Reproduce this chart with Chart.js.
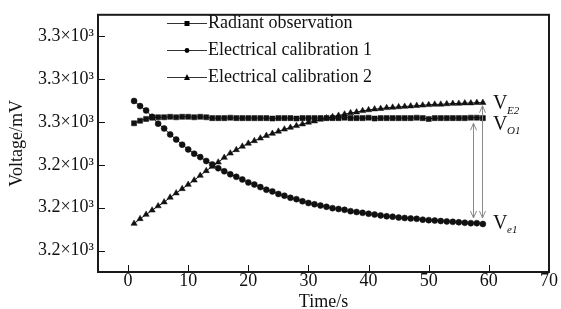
<!DOCTYPE html>
<html>
<head>
<meta charset="utf-8">
<script src="https://cdn.jsdelivr.net/npm/chart.js@4/dist/chart.umd.min.js"></script>
<style>
html,body{margin:0;padding:0;background:#fff}
</style>
</head>
<body>
<canvas id="voltChart" width="561" height="309"></canvas>
<script>

// time axis (s)
const times = [1,2,3,4,5,6,7,8,9,10,11,12,13,14,15,16,17,18,19,20,21,22,23,24,25,26,27,28,29,30,31,32,33,34,35,36,37,38,39,40,41,42,43,44,45,46,47,48,49,50,51,52,53,54,55,56,57,58,59]

// voltages (mV)
const radiant = [3249.7,3250.3,3250.7,3251.0,3251.1,3251.1,3251.2,3251.1,3251.2,3251.2,3251.1,3251.2,3251.1,3250.9,3250.9,3250.9,3251.0,3250.9,3250.9,3250.9,3250.9,3250.9,3250.9,3250.8,3250.9,3250.9,3250.9,3250.8,3250.9,3250.9,3250.9,3250.9,3250.9,3250.9,3250.9,3251.0,3250.9,3250.9,3250.9,3251.0,3250.8,3250.9,3250.9,3250.9,3250.9,3250.9,3250.9,3251.0,3250.9,3250.7,3250.9,3250.9,3250.9,3250.9,3250.9,3250.9,3251.0,3251.0,3250.9]

const elec1 = [3254.9,3253.7,3252.7,3251.2,3249.6,3248.5,3247.1,3245.9,3244.7,3243.6,3242.6,3241.8,3240.9,3240.1,3239.2,3238.5,3237.8,3237.2,3236.6,3235.9,3235.4,3234.8,3234.2,3233.8,3233.2,3232.8,3232.3,3232.0,3231.5,3231.1,3230.8,3230.5,3230.2,3229.9,3229.7,3229.5,3229.2,3229.0,3228.8,3228.6,3228.4,3228.2,3228.0,3227.9,3227.7,3227.6,3227.5,3227.4,3227.2,3227.1,3227.0,3226.9,3226.8,3226.7,3226.6,3226.5,3226.4,3226.4,3226.2]

const elec2 = [3226.3,3227.4,3228.4,3229.4,3230.4,3231.3,3232.4,3233.4,3234.4,3235.4,3236.4,3237.5,3238.6,3239.6,3240.6,3241.7,3242.7,3243.5,3244.3,3245.0,3245.6,3246.2,3246.8,3247.3,3247.8,3248.3,3248.7,3249.1,3249.5,3249.9,3250.2,3250.6,3250.9,3251.2,3251.5,3251.8,3252.1,3252.3,3252.6,3252.8,3253.0,3253.1,3253.3,3253.4,3253.5,3253.6,3253.7,3253.8,3253.9,3254.0,3254.1,3254.1,3254.2,3254.3,3254.3,3254.4,3254.4,3254.5,3254.5]

const seriesNames = ["Radiant observation","Electrical calibration 1","Electrical calibration 2"]

const xTicks = [0,10,20,30,40,50,60,70]
const yTicks = [3220,3230,3240,3250,3260,3270]
const yTickLabels = ["3.2×10³","3.2×10³","3.2×10³","3.3×10³","3.3×10³","3.3×10³"]

const serif = "'Liberation Serif','Times New Roman',serif"


// small line+marker pictures for the legend
function legendIcon(kind){
  const c = document.createElement("canvas")
  c.width = 40
  c.height = 10
  const g = c.getContext("2d")
  g.strokeStyle = "#333"
  g.lineWidth = 1
  g.beginPath()
  g.moveTo(0,5.5)
  g.lineTo(40,5.5)
  g.stroke()
  g.fillStyle = "#000"
  g.beginPath()
  if(kind=="rect"){
    g.rect(17.5,3,5,5)
  }else if(kind=="circle"){
    g.arc(20,5.5,2.4,0,Math.PI*2)
  }else{
    g.moveTo(20,2)
    g.lineTo(23,8)
    g.lineTo(17,8)
    g.closePath()
  }
  g.fill()
  return c
}
const icons = [legendIcon("rect"),legendIcon("circle"),legendIcon("triangle")]


// inward ticks, full frame, arrows and V labels
const framePlugin = {
  id:"frame",
  afterLayout(chart){
    const lg = chart.legend
    if(!lg) return
    lg.left += 68
    lg.right += 68
    lg.top += 5
    lg.bottom += 5
  },
  afterDatasetsDraw(chart){
    const ctx = chart.ctx
    const a = chart.chartArea
    const sx = chart.scales.x
    const sy = chart.scales.y
    ctx.save()
    ctx.strokeStyle = "#111"
    ctx.lineWidth = 1
    xTicks.forEach(v=>{
      const px = Math.round(sx.getPixelForValue(v))+0.5
      ctx.beginPath()
      ctx.moveTo(px,a.bottom)
      ctx.lineTo(px,a.bottom-7)
      ctx.stroke()
    })
    yTicks.forEach(v=>{
      const py = Math.round(sy.getPixelForValue(v))+0.5
      ctx.beginPath()
      ctx.moveTo(a.left,py)
      ctx.lineTo(a.left+7,py)
      ctx.stroke()
    })
    ctx.lineWidth = 2
    ctx.strokeStyle = "#1a1a1a"
    ctx.strokeRect(a.left,a.top,a.right-a.left,a.bottom-a.top)

    // double arrows
    const arrows = [[57.3,3249.7,3227.6],[58.9,3253.8,3227.6]]
    ctx.strokeStyle = "#8a8a8a"
    ctx.lineWidth = 1
    arrows.forEach(ar=>{
      const px = Math.round(sx.getPixelForValue(ar[0]))+0.5
      const y1 = sy.getPixelForValue(ar[1])
      const y2 = sy.getPixelForValue(ar[2])
      ctx.beginPath()
      ctx.moveTo(px,y1)
      ctx.lineTo(px,y2)
      ctx.moveTo(px-3,y1+7)
      ctx.lineTo(px,y1)
      ctx.lineTo(px+3,y1+7)
      ctx.moveTo(px-3,y2-7)
      ctx.lineTo(px,y2)
      ctx.lineTo(px+3,y2-7)
      ctx.stroke()
    })

    // V labels
    const marks = [["E2",3254.2],["O1",3249.4],["e1",3226.3]]
    ctx.fillStyle = "#111"
    ctx.textBaseline = "middle"
    ctx.textAlign = "left"
    marks.forEach(m=>{
      const px = sx.getPixelForValue(60.7)
      const py = sy.getPixelForValue(m[1])
      ctx.font = "20px "+serif
      ctx.fillText("V",px,py)
      ctx.font = "italic 11px "+serif
      ctx.fillText(m[0],px+14,py+7)
    })
    ctx.restore()
  }
}


new Chart(

document.getElementById("voltChart"),

{

type:"line",

data:{

labels:times,

datasets:[

{
label:seriesNames[0],
data:radiant,
pointStyle:"rect",
pointRadius:3.6,
borderColor:"#111",
backgroundColor:"#111",
borderWidth:1,
pointBorderWidth:0.5
},

{
label:seriesNames[1],
data:elec1,
pointStyle:"circle",
pointRadius:3,
borderColor:"#111",
backgroundColor:"#111",
borderWidth:1,
pointBorderWidth:0.5
},

{
label:seriesNames[2],
data:elec2,
pointStyle:"triangle",
pointRadius:3.6,
borderColor:"#111",
backgroundColor:"#111",
borderWidth:1,
pointBorderWidth:0.5
}

]

},

options:{

responsive:false,
animation:false,

layout:{
padding:{top:12,right:12,left:0,bottom:0}
},

scales:{

x:{
type:"linear",
min:-5,
max:70,
afterFit(s){ s.height = 37 },
afterBuildTicks(s){ s.ticks = xTicks.map(v=>({value:v})) },
grid:{display:false,drawTicks:false},
border:{display:false},
ticks:{
color:"#111",
padding:0,
maxRotation:0,
autoSkip:false,
font:{family:serif,size:18,lineHeight:1}
},
title:{
display:true,
text:"Time/s",
color:"#111",
padding:{top:0,bottom:0},
font:{family:serif,size:18,lineHeight:0.8}
}
},

y:{
min:3215,
max:3275,
afterFit(s){ s.width = 98 },
afterBuildTicks(s){ s.ticks = yTicks.map(v=>({value:v})) },
grid:{display:false,drawTicks:false},
border:{display:false},
ticks:{
color:"#111",
padding:4,
font:{family:serif,size:18},
callback:(v,i)=>yTickLabels[i]
},
title:{
display:true,
text:"Voltage/mV",
color:"#111",
padding:{top:6,bottom:0},
font:{family:serif,size:18}
}
}

},

plugins:{

tooltip:{enabled:false},

legend:{
position:"chartArea",
align:"start",
labels:{
usePointStyle:true,
pointStyleWidth:24,
color:"#111",
padding:9,
font:{family:serif,size:18,lineHeight:1},
generateLabels(chart){
const items = Chart.defaults.plugins.legend.labels.generateLabels(chart)
items.forEach((it,i)=>{ it.pointStyle = icons[i] })
return items
}
}
}

}

},

plugins:[framePlugin]

}

)

</script>
</body>
</html>
